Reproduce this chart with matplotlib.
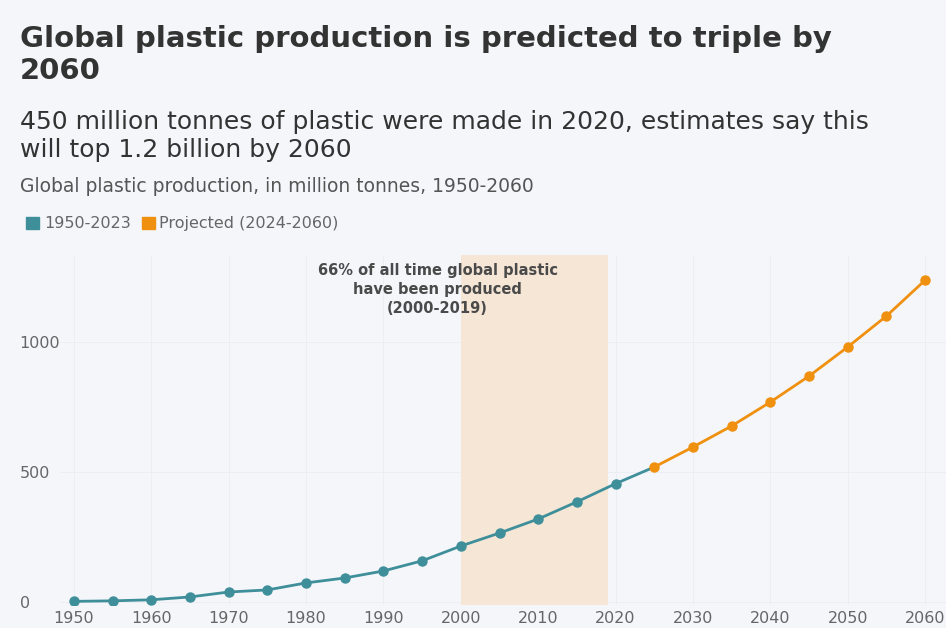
import numpy as np
import matplotlib.pyplot as plt
from matplotlib.patches import Patch

# data (million tonnes)
years_hist = [1950, 1955, 1960, 1965, 1970, 1975, 1980, 1985, 1990, 1995,
              2000, 2005, 2010, 2015, 2020]
prod_hist = [2, 4, 8, 19, 38, 46, 73, 92, 119, 158, 215, 265, 319, 385, 455]
years_proj = [2025, 2030, 2035, 2040, 2045, 2050, 2055, 2060]
prod_proj = [519, 596, 677, 769, 869, 981, 1100, 1238]
shade_span = (2000, 2019)
xticks = list(range(1950, 2061, 10))
yticks = [0, 500, 1000]

teal = '#3f8f9b'
orange = '#f0900f'
bg = '#f4f6fa'
shade = '#f5e6d6'
dark = '#333333'
grey = '#666666'

plt.rcParams['font.family'] = ['DejaVu Sans']

fig = plt.figure(figsize=(9.46, 6.28), dpi=100, facecolor=bg)
ax = fig.add_axes([60 / 946, 23 / 628, 886 / 946, 350 / 628])
ax.set_facecolor(bg)
ax.set_axisbelow(True)

ax.axvspan(*shade_span, color=shade, zorder=1, lw=0)

# teal line runs into the first projected point
ax.plot(years_hist + years_proj[:1], prod_hist + prod_proj[:1], color=teal,
        lw=2, zorder=3)
ax.plot(years_hist, prod_hist, 'o', color=teal, ms=6.5, zorder=4)
ax.plot(years_proj, prod_proj, '-o', color=orange, lw=2, ms=6.5, zorder=4)

ax.set_xlim(1948.2, 2062.7)
ax.set_ylim(-12, 1335)
ax.set_xticks(xticks)
ax.set_yticks(yticks)
ax.grid(True, color='#eceef3', lw=0.7)
for s in ax.spines.values():
    s.set_visible(False)
ax.tick_params(axis='both', length=0, colors=grey, labelsize=11.5)
ax.tick_params(axis='y', pad=29)
for lab in ax.get_yticklabels():
    lab.set_ha('left')
ax.tick_params(axis='x', pad=4)

ax.text(1997, 1202, '66% of all time global plastic\nhave been produced\n(2000-2019)',
        ha='center', va='center', fontsize=10.5, fontweight='bold', color='#4a4a4a',
        linespacing=1.3, zorder=5)

fig.text(20 / 946, 1 - 55 / 628, 'Global plastic production is predicted to triple by\n2060',
         ha='left', va='center', fontsize=21, fontweight='bold', color=dark,
         linespacing=1.2)
fig.text(20 / 946, 1 - 136 / 628,
         '450 million tonnes of plastic were made in 2020, estimates say this\nwill top 1.2 billion by 2060',
         ha='left', va='center', fontsize=18, color=dark, linespacing=1.22)
fig.text(20 / 946, 1 - 187 / 628, 'Global plastic production, in million tonnes, 1950-2060',
         ha='left', va='center', fontsize=13.5, color='#555555')

handles = [Patch(color=teal, label='1950-2023'),
           Patch(color=orange, label='Projected (2024-2060)')]
fig.legend(handles=handles, loc='center left', bbox_to_anchor=(12 / 946, 1 - 224 / 628),
           ncol=2, frameon=False, fontsize=11.5, handlelength=0.8, handleheight=0.8,
           handletextpad=0.3, columnspacing=0.7, labelcolor=grey)

fig.savefig('out.png', dpi=100, facecolor=bg)
